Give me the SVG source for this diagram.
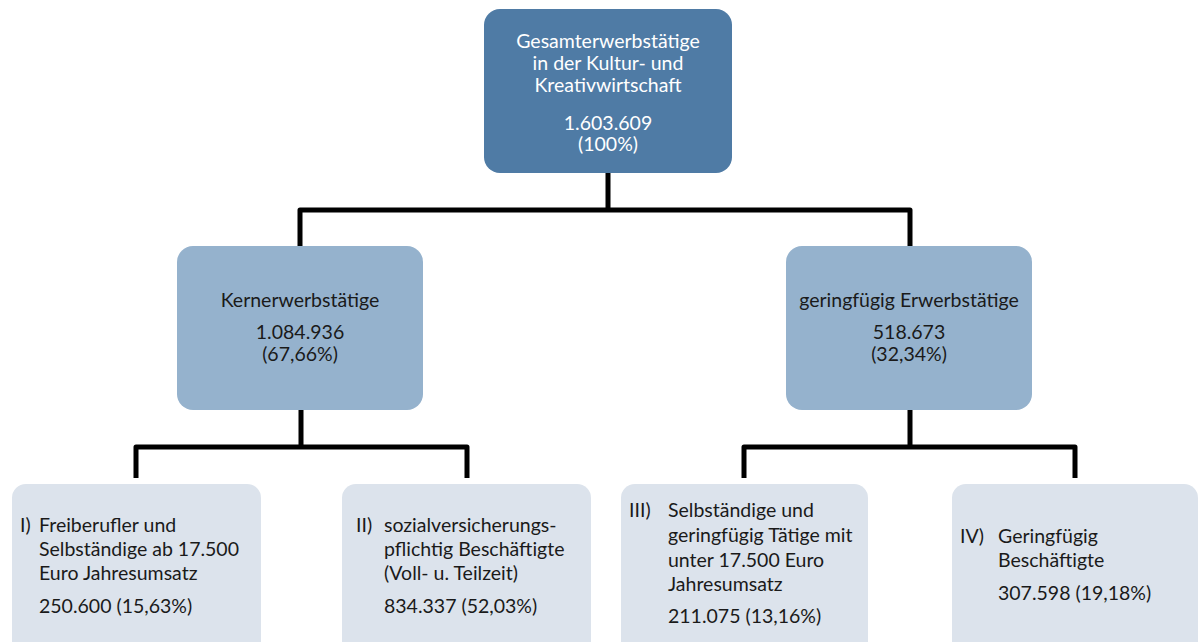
<svg xmlns="http://www.w3.org/2000/svg" width="1199" height="642" viewBox="0 0 1199 642">
<style>
text{font-family:Lato,"Open Sans","Liberation Sans",sans-serif;font-size:19.5px;fill:#1a1a1a}
.c{text-anchor:middle}
.w{fill:#ffffff}
.l1{fill:#4f7ba5}
.l2{fill:#95b2cd}
.l3{fill:#dce3ec}
.con{fill:none;stroke:#000;stroke-width:5;stroke-linejoin:round;stroke-linecap:butt}
</style>
<rect width="1199" height="642" fill="#ffffff"/>
<g id="connectors">
<path class="con" d="M608 173V210M300 246V210H910V246"/>
<path class="con" d="M301 410V447M136 478V447H467V478"/>
<path class="con" d="M910 410V447M744 478V447H1075V478"/>
</g>
<g id="n0">
<rect class="l1" x="484" y="9" width="248" height="164" rx="16"/>
<text class="c w" x="608" y="48">Gesamterwerbstätige</text>
<text class="c w" x="608" y="70">in der Kultur- und</text>
<text class="c w" x="608" y="92">Kreativwirtschaft</text>
<text class="c w" x="608" y="130">1.603.609</text>
<text class="c w" x="608" y="151">(100%)</text>
</g>
<g id="n1">
<rect class="l2" x="177" y="246" width="246" height="164" rx="16"/>
<text class="c" x="300" y="307">Kernerwerbstätige</text>
<text class="c" x="300" y="339">1.084.936</text>
<text class="c" x="300" y="361">(67,66%)</text>
</g>
<g id="n2">
<rect class="l2" x="786" y="246" width="246" height="164" rx="16"/>
<text class="c" x="909" y="307">geringfügig Erwerbstätige</text>
<text class="c" x="909" y="339">518.673</text>
<text class="c" x="909" y="361">(32,34%)</text>
</g>
<g id="n3">
<rect class="l3" x="12" y="484" width="249" height="176" rx="14"/>
<text x="20" y="532">I)</text>
<text x="39" y="532">Freiberufler und</text>
<text x="39" y="556">Selbständige ab 17.500</text>
<text x="39" y="580">Euro Jahresumsatz</text>
<text x="39" y="613">250.600 (15,63%)</text>
</g>
<g id="n4">
<rect class="l3" x="342" y="484" width="249" height="176" rx="14"/>
<text x="356" y="532">II)</text>
<text x="384" y="532">sozialversicherungs-</text>
<text x="384" y="556">pflichtig Beschäftigte</text>
<text x="384" y="580">(Voll- u. Teilzeit)</text>
<text x="384" y="613">834.337 (52,03%)</text>
</g>
<g id="n5">
<rect class="l3" x="621" y="484" width="247" height="176" rx="14"/>
<text x="629" y="517">III)</text>
<text x="668" y="517">Selbständige und</text>
<text x="668" y="542">geringfügig Tätige mit</text>
<text x="668" y="567">unter 17.500 Euro</text>
<text x="668" y="591">Jahresumsatz</text>
<text x="668" y="623">211.075 (13,16%)</text>
</g>
<g id="n6">
<rect class="l3" x="952" y="484" width="246" height="176" rx="14"/>
<text x="960" y="543">IV)</text>
<text x="998" y="543">Geringfügig</text>
<text x="998" y="567">Beschäftigte</text>
<text x="998" y="600">307.598 (19,18%)</text>
</g>
</svg>
